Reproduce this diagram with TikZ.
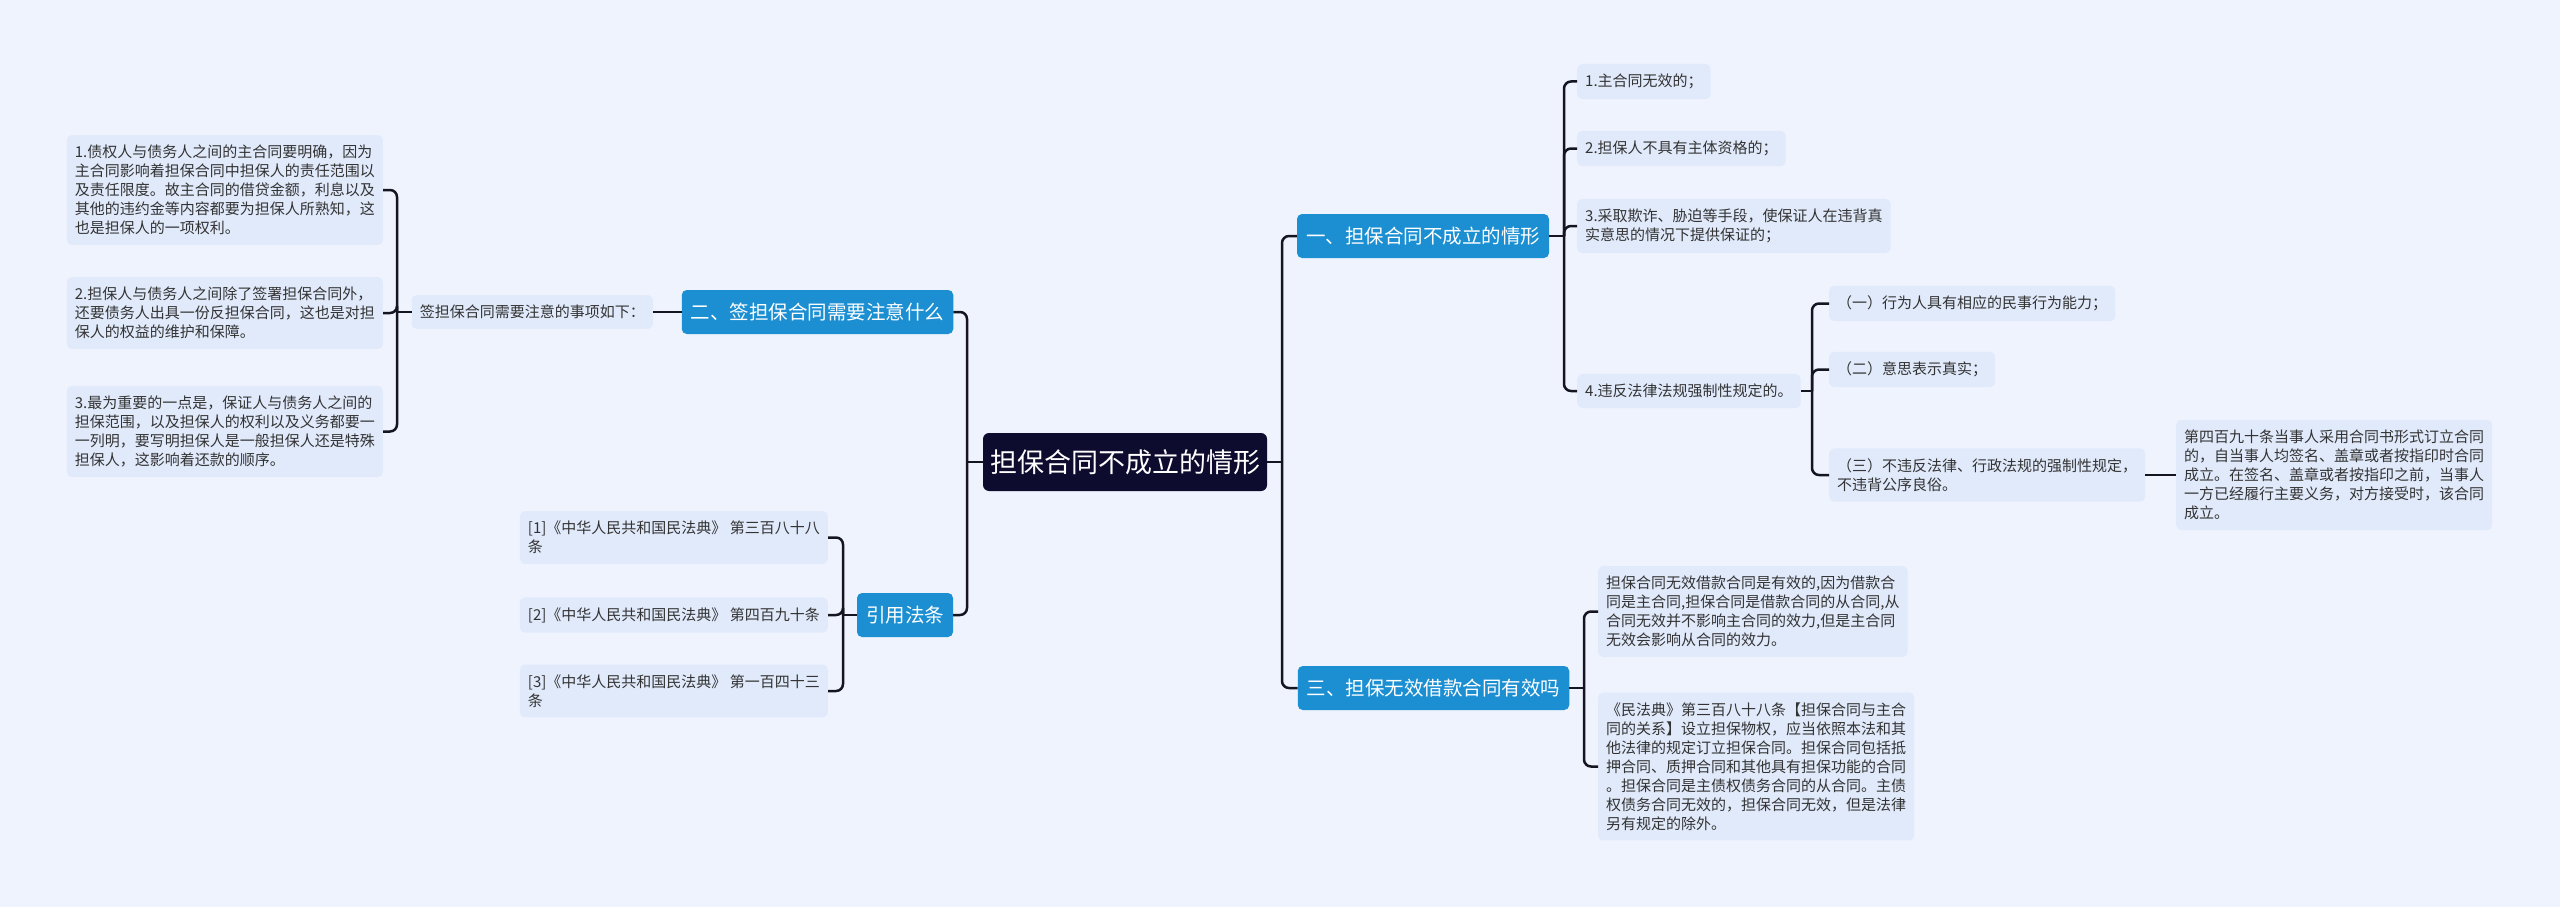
\documentclass[tikz,border=0pt]{standalone}
\usepackage{fontspec}
\newfontfamily\cjk{Noto Sans CJK SC}
\definecolor{bgc}{HTML}{EEF3FE}
\definecolor{leafc}{HTML}{E1EAFB}
\definecolor{branchc}{HTML}{1B8FD2}
\definecolor{rootc}{HTML}{0D0B2E}
\definecolor{linec}{HTML}{15151F}
\definecolor{leaftext}{HTML}{333333}
\begin{document}
\begin{tikzpicture}[x=1pt,y=-1pt,
 leaf/.style={fill=leafc, rounded corners=5pt, inner xsep=8pt, inner ysep=10pt, align=left, text=leaftext, font=\cjk\fontsize{15}{19}\selectfont},
 branch/.style={fill=branchc, rounded corners=5pt, text=white, font=\cjk\fontsize{19.5}{22}\selectfont, minimum height=44pt, inner xsep=9pt},
 rootbox/.style={fill=rootc, rounded corners=6pt, text=white, font=\cjk\fontsize{27}{31}\selectfont, minimum height=58pt, minimum width=284pt},
 link/.style={draw=linec, line width=2.5pt, rounded corners=7pt}]
\fill[bgc] (0,0) rectangle (2560,907);
\useasboundingbox (0,0) rectangle (2560,907);

% root and branches
\node[rootbox] (root) at (1125,462) {担保合同不成立的情形};
\node[branch, minimum width=250pt] (b1) at (1423,236) {一、担保合同不成立的情形};
\node[branch, minimum width=271pt] (b3) at (1433.5,688) {三、担保无效借款合同有效吗};
\node[branch, minimum width=271pt] (b2) at (817.5,312) {二、签担保合同需要注意什么};
\node[branch, minimum width=96pt] (b4) at (905,615) {引用法条};

% left side leaves
\node[leaf, anchor=east] (s) at (653,312) {签担保合同需要注意的事项如下：};
\node[leaf, anchor=east] (l1) at (383,190) {1.债权人与债务人之间的主合同要明确，因为\\主合同影响着担保合同中担保人的责任范围以\\及责任限度。故主合同的借贷金额，利息以及\\其他的违约金等内容都要为担保人所熟知，这\\也是担保人的一项权利。};
\node[leaf, anchor=east] (l2) at (383,313) {2.担保人与债务人之间除了签署担保合同外，\\还要债务人出具一份反担保合同，这也是对担\\保人的权益的维护和保障。};
\node[leaf, anchor=east] (l3) at (383,431.5) {3.最为重要的一点是，保证人与债务人之间的\\担保范围，以及担保人的权利以及义务都要一\\一列明，要写明担保人是一般担保人还是特殊\\担保人，这影响着还款的顺序。};

\node[leaf, anchor=east] (c1) at (828,537.5) {[1]《中华人民共和国民法典》 第三百八十八\\条};
\node[leaf, anchor=east] (c2) at (828,615) {[2]《中华人民共和国民法典》 第四百九十条};
\node[leaf, anchor=east] (c3) at (828,691) {[3]《中华人民共和国民法典》 第一百四十三\\条};

% right side leaves
\node[leaf, anchor=west] (r1) at (1577,81.5) {1.主合同无效的；};
\node[leaf, anchor=west] (r2) at (1577,148.5) {2.担保人不具有主体资格的；};
\node[leaf, anchor=west] (r3) at (1577,226) {3.采取欺诈、胁迫等手段，使保证人在违背真\\实意思的情况下提供保证的；};
\node[leaf, anchor=west] (r4) at (1577,391) {4.违反法律法规强制性规定的。};

\node[leaf, anchor=west] (s1) at (1829,303.5) {（一）行为人具有相应的民事行为能力；};
\node[leaf, anchor=west] (s2) at (1829,369.5) {（二）意思表示真实；};
\node[leaf, anchor=west] (s3) at (1829,475) {（三）不违反法律、行政法规的强制性规定，\\不违背公序良俗。};
\node[leaf, anchor=west] (s3a) at (2176,475) {第四百九十条当事人采用合同书形式订立合同\\的，自当事人均签名、盖章或者按指印时合同\\成立。在签名、盖章或者按指印之前，当事人\\一方已经履行主要义务，对方接受时，该合同\\成立。};

\node[leaf, anchor=west] (t1) at (1598,611.5) {担保合同无效借款合同是有效的,因为借款合\\同是主合同,担保合同是借款合同的从合同,从\\合同无效并不影响主合同的效力,但是主合同\\无效会影响从合同的效力。};
\node[leaf, anchor=west] (t2) at (1598,766.5) {《民法典》第三百八十八条【担保合同与主合\\同的关系】设立担保物权，应当依照本法和其\\他法律的规定订立担保合同。担保合同包括抵\\押合同、质押合同和其他具有担保功能的合同\\。担保合同是主债权债务合同的从合同。主债\\权债务合同无效的，担保合同无效，但是法律\\另有规定的除外。};

% connectors
\coordinate (jR) at (1282,462);
\draw[link] (root.east) -- (jR);
\draw[link] (jR) |- (b1.west);
\draw[link] (jR) |- (b3.west);

\coordinate (jL) at (967,462);
\draw[link] (root.west) -- (jL);
\draw[link] (jL) |- (b2.east);
\draw[link] (jL) |- (b4.east);

\draw[link] (b2.west) -- (s.east);
\coordinate (js) at (397,312);
\draw[link] (s.west) -- (js);
\draw[link] (js) |- (l1.east);
\draw[link] (js) |- (l2.east);
\draw[link] (js) |- (l3.east);

\coordinate (jc) at (843,615);
\draw[link] (b4.west) -- (jc);
\draw[link] (jc) |- (c1.east);
\draw[link] (jc) |- (c2.east);
\draw[link] (jc) |- (c3.east);

\coordinate (j1) at (1564,236);
\draw[link] (b1.east) -- (j1);
\draw[link] (j1) |- (r1.west);
\draw[link] (j1) |- (r2.west);
\draw[link] (j1) |- (r3.west);
\draw[link] (j1) |- (r4.west);

\coordinate (j4) at (1812,391);
\draw[link] (r4.east) -- (j4);
\draw[link] (j4) |- (s1.west);
\draw[link] (j4) |- (s2.west);
\draw[link] (j4) |- (s3.west);

\draw[link] (s3.east) -- (s3a.west);

\coordinate (j3) at (1584,688);
\draw[link] (b3.east) -- (j3);
\draw[link] (j3) |- (t1.west);
\draw[link] (j3) |- (t2.west);
\end{tikzpicture}
\end{document}
